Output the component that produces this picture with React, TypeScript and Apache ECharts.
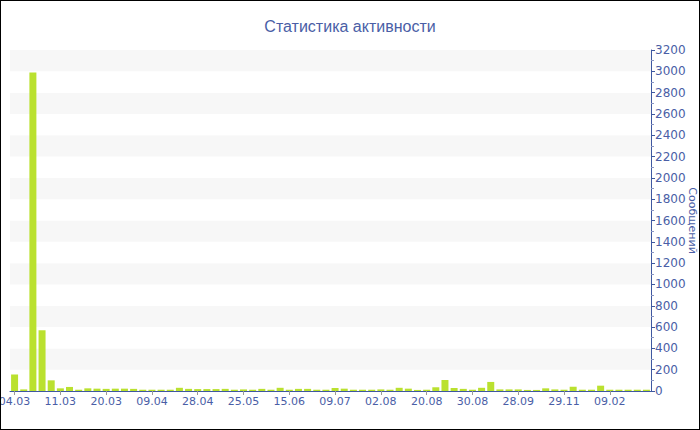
import React, { useEffect, useRef } from "react";
import * as echarts from "echarts";

// Activity per day; only every fifth day carries a date label on the axis.
const dayLabels: string[] = [
  "04.03", "", "", "", "",
  "11.03", "", "", "", "",
  "20.03", "", "", "", "",
  "09.04", "", "", "", "",
  "28.04", "", "", "", "",
  "25.05", "", "", "", "",
  "15.06", "", "", "", "",
  "09.07", "", "", "", "",
  "02.08", "", "", "", "",
  "20.08", "", "", "", "",
  "30.08", "", "", "", "",
  "28.09", "", "", "", "",
  "29.11", "", "", "", "",
  "09.02", "", "", "", "",
];

const messages: number[] = [
  155, 15, 2990, 570, 100, 25, 38, 12, 25, 22,
  20, 22, 22, 20, 12, 12, 12, 12, 30, 20,
  18, 18, 18, 20, 12, 15, 12, 20, 12, 30,
  12, 20, 20, 12, 12, 28, 22, 12, 12, 12,
  15, 12, 30, 22, 10, 12, 35, 103, 28, 20,
  12, 30, 85, 15, 15, 15, 10, 10, 25, 15,
  12, 40, 12, 12, 50, 12, 12, 12, 12, 12,
];

const yTicks = { min: 0, max: 3200, step: 200 };

const TEXT = "#4a5ea6";
const AXIS = "#3f58a0";
const FONT = "DejaVu Sans";

export default function App() {
  const ref = useRef<HTMLDivElement>(null);

  useEffect(() => {
    document.body.style.margin = "0";
    if (!ref.current) return;
    const chart = echarts.init(ref.current, undefined, { renderer: "svg" });
    chart.setOption({
      animation: false,
      backgroundColor: "#ffffff",
      title: {
        text: "Статистика активности",
        left: "center",
        top: 12,
        textStyle: { color: TEXT, fontFamily: "Liberation Sans", fontSize: 16, fontWeight: "normal" },
      },
      grid: {
        left: 9,
        right: 48,
        top: 49,
        bottom: 38,
        containLabel: false,
        outerBoundsMode: "none",
      },
      xAxis: {
        type: "category",
        data: dayLabels,
        boundaryGap: true,
        axisLine: { show: true, lineStyle: { color: AXIS, width: 1 } },
        axisTick: {
          show: true,
          interval: 4,
          alignWithLabel: true,
          length: 4,
          lineStyle: { color: "#999999" },
        },
        axisLabel: {
          interval: 4,
          color: TEXT,
          fontFamily: FONT,
          fontSize: 11,
          margin: 5,
        },
        splitLine: { show: false },
      },
      yAxis: {
        type: "value",
        position: "right",
        min: yTicks.min,
        max: yTicks.max,
        interval: yTicks.step,
        name: "Сообщений",
        nameLocation: "middle",
        nameRotate: -90,
        nameGap: 36,
        nameMoveOverlap: false,
        nameTextStyle: { color: TEXT, fontFamily: FONT, fontSize: 11 },
        axisLine: { show: true, lineStyle: { color: AXIS, width: 1 } },
        axisTick: { show: true, length: 4, lineStyle: { color: AXIS } },
        minorTick: { show: true, splitNumber: 2, length: 3, lineStyle: { color: "#8a96c4" } },
        axisLabel: {
          color: TEXT,
          fontFamily: FONT,
          fontSize: 12,
          margin: 4,
          formatter: (v: number) => String(v),
        },
        splitLine: { show: false },
        splitArea: { show: true, areaStyle: { color: ["#ffffff", "#f7f7f7"] } },
      },
      series: [
        {
          type: "bar",
          data: messages,
          barWidth: 7,
          itemStyle: { color: "#bae12f" },
        },
      ],
    });
    return () => chart.dispose();
  }, []);

  return (
    <div
      style={{
        width: 700,
        height: 430,
        boxSizing: "border-box",
        border: "1px solid #000",
        position: "relative",
        overflow: "hidden",
      }}
    >
      <div ref={ref} style={{ width: 698, height: 428 }} />
    </div>
  );
}
